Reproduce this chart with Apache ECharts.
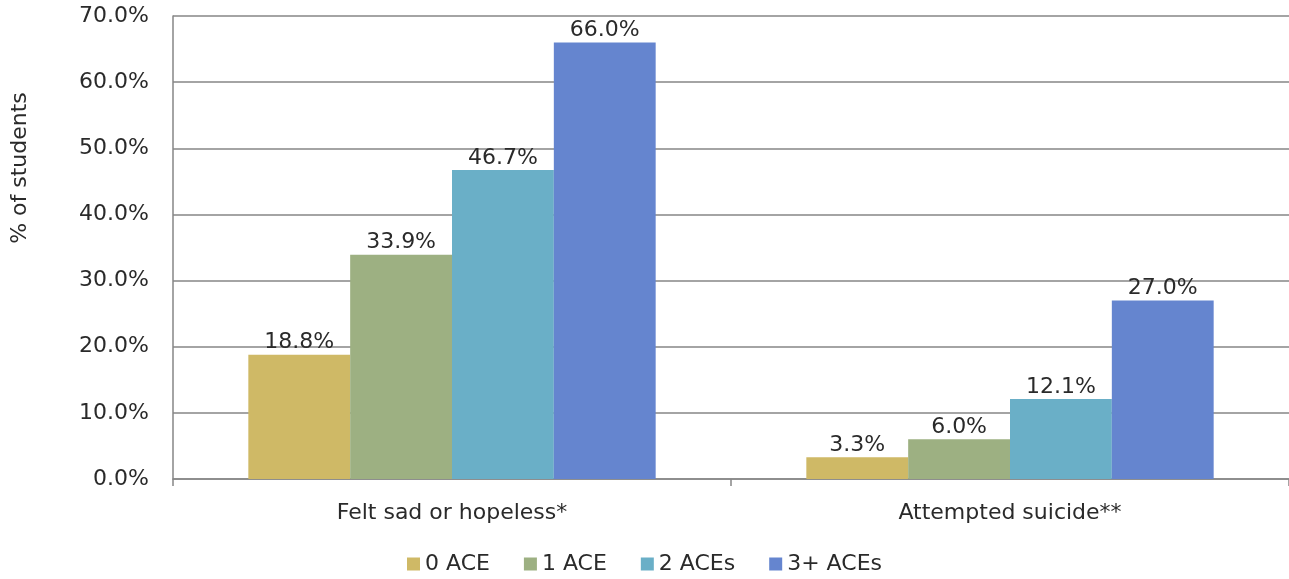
<!DOCTYPE html>
<html>
<head>
<meta charset="utf-8">
<script src="https://cdn.jsdelivr.net/npm/echarts@6/dist/echarts.min.js"></script>
<style>
  html, body { margin: 0; padding: 0; background: #fff; }
  #chart { width: 1289px; height: 579px; }
</style>
</head>
<body>
<div id="chart"></div>
<script>
const categories = ["Felt sad or hopeless*", "Attempted suicide**"];
const seriesNames = ["0 ACE", "1 ACE", "2 ACEs", "3+ ACEs"];
const ace0 = [18.8, 3.3];
const ace1 = [33.9, 6.0];
const ace2 = [46.7, 12.1];
const ace3 = [66.0, 27.0];
const colors = ["#CFB966", "#9DB082", "#6AAFC7", "#6585CF"];

const font = "'DejaVu Sans', Verdana, sans-serif";
const values = [ace0, ace1, ace2, ace3];

const chart = echarts.init(document.getElementById("chart"));
chart.setOption({
  animation: false,
  color: colors,
  grid: { left: 173, right: 0, top: 16, bottom: 100, containLabel: false },
  legend: {
    bottom: -1,
    left: "center",
    itemWidth: 13,
    itemHeight: 13,
    itemGap: 34,
    icon: "rect",
    textStyle: { fontFamily: font, fontSize: 22, color: "#2a2a2a", padding: [0, 0, 0, 0] },
    data: seriesNames
  },
  xAxis: {
    type: "category",
    data: categories,
    axisLine: { lineStyle: { color: "#868686", width: 1.5 } },
    axisTick: { show: true, length: 7, lineStyle: { color: "#868686", width: 1.5 } },
    axisLabel: { fontFamily: font, fontSize: 22, color: "#2a2a2a", margin: 23 }
  },
  yAxis: {
    type: "value",
    min: 0,
    max: 70,
    interval: 10,
    axisLine: { show: true, lineStyle: { color: "#868686", width: 1.5 } },
    axisTick: { show: false },
    splitLine: { lineStyle: { color: "#868686", width: 1.5 } },
    axisLabel: {
      fontFamily: font, fontSize: 22, color: "#2a2a2a", margin: 24,
      formatter: v => v.toFixed(1) + "%"
    }
  },
  graphic: [{
    type: "text",
    x: 9,
    y: 168,
    rotation: Math.PI / 2,
    style: {
      text: "% of students",
      font: "22px " + font,
      fill: "#2a2a2a",
      align: "center",
      verticalAlign: "top"
    }
  }],
  series: seriesNames.map((name, i) => ({
    name: name,
    type: "bar",
    data: values[i],
    barGap: "0%",
    barCategoryGap: "27%",
    label: {
      show: true,
      position: "top",
      distance: 1,
      fontFamily: font,
      fontSize: 22,
      color: "#2a2a2a",
      formatter: p => p.value.toFixed(1) + "%"
    }
  }))
});
</script>
</body>
</html>
